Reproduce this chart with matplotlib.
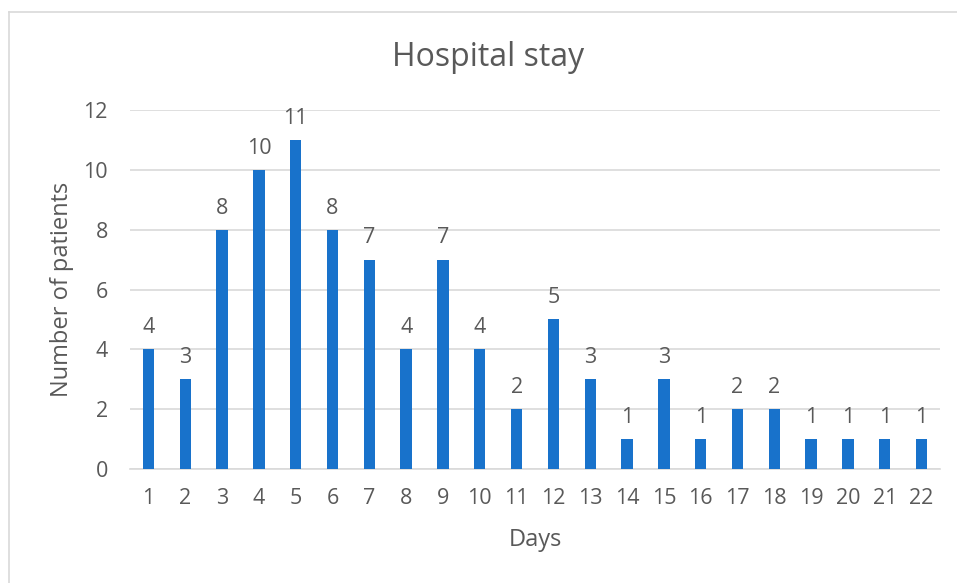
import matplotlib.pyplot as plt
from matplotlib.lines import Line2D

plt.rcParams['font.family'] = ['Open Sans', 'DejaVu Sans']

# Length of stay (days) and how many patients stayed that long
days = list(range(1, 23))
patients = [4, 3, 8, 10, 11, 8, 7, 4, 7, 4, 2, 5, 3, 1, 3, 1, 2, 2, 1, 1, 1, 1]

text_grey = '#595959'
bar_blue = '#1872CB'

fig = plt.figure(figsize=(9.57, 5.83), dpi=100)
ax = fig.add_axes([130 / 957, 1 - 469 / 583, 810 / 957, 359 / 583])

ax.bar(days, patients, width=0.31, color=bar_blue, zorder=3)
for d, p in zip(days, patients):
    ax.annotate(str(p), (d, p), xytext=(0, 8), textcoords='offset points',
                ha='center', va='bottom', fontsize=15.5, color=text_grey)

ax.set_xlim(0.5, 22.5)
ax.set_ylim(0, 12)
ax.set_yticks(range(0, 13, 2))
ax.set_xticks(days)
ax.grid(axis='y', color='#d9d9d9', linewidth=1.2, zorder=0)
for s in ['top', 'right', 'left']:
    ax.spines[s].set_visible(False)
ax.spines['bottom'].set_color('#d9d9d9')
ax.spines['bottom'].set_linewidth(1.2)
ax.tick_params(length=0, labelsize=15.5, labelcolor=text_grey)
ax.tick_params(axis='x', pad=14)
ax.tick_params(axis='y', pad=16)

ax.set_xlabel('Days', fontsize=17, color=text_grey, va='center')
ax.set_ylabel('Number of patients', fontsize=17, color=text_grey, va='center')
ax.xaxis.set_label_coords((535 - 130) / 810, (469 - 540) / 359)
ax.yaxis.set_label_coords((62 - 130) / 810, (469 - 289) / 359)
fig.text(488 / 957, 1 - 57 / 583, 'Hospital stay', ha='center', va='center',
         fontsize=23, color=text_grey)

# chart frame
fig.add_artist(Line2D([9 / 957, 9 / 957], [0, 1 - 12 / 583], transform=fig.transFigure,
                      color='#d9d9d9', linewidth=1.2))
fig.add_artist(Line2D([9 / 957, 1], [1 - 12 / 583, 1 - 12 / 583], transform=fig.transFigure,
                      color='#d9d9d9', linewidth=1.2))

fig.savefig('out.png', dpi=100)
